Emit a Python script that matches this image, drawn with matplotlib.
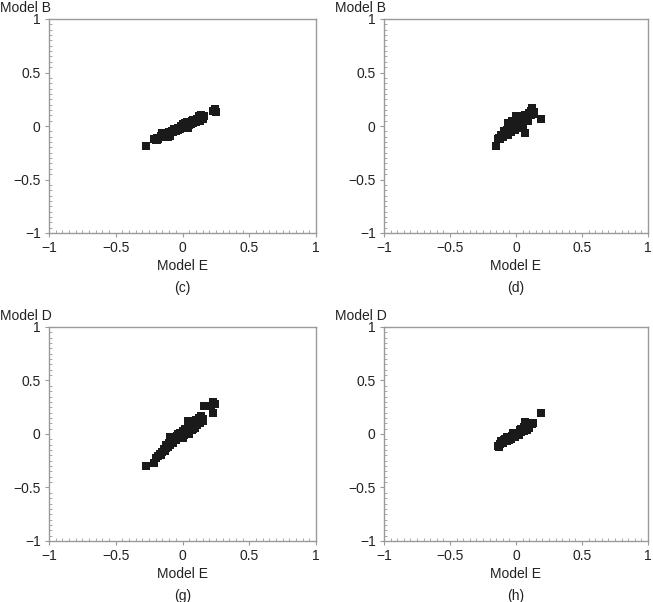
import matplotlib.pyplot as plt
from matplotlib.ticker import MultipleLocator

plt.rcParams['font.family'] = ['Liberation Sans', 'DejaVu Sans']

# panel (c): Model E vs Model B
xc = [-0.27, -0.21, -0.20, -0.19, -0.18, -0.16, -0.15, -0.14, -0.13, -0.12, -0.11, -0.10,
      -0.09, -0.08, -0.07, -0.06, -0.05, -0.04, -0.03, -0.02, -0.01, 0.00, 0.01, 0.02,
      0.03, 0.04, 0.05, 0.06, 0.07, 0.08, 0.09, 0.10, 0.11, 0.12, 0.13, 0.14, 0.15,
      0.16, 0.23, 0.24, 0.25,
      -0.19, -0.15, -0.12, -0.09, -0.06, -0.03, 0.00, 0.03, 0.05, 0.08, 0.12, 0.15]
yc = [-0.19, -0.12, -0.13, -0.11, -0.12, -0.09, -0.10, -0.08, -0.09, -0.07, -0.10, -0.06,
      -0.07, -0.05, -0.06, -0.04, -0.05, -0.03, -0.02, -0.03, 0.00, -0.01, 0.01, 0.03,
      0.00, -0.02, 0.04, 0.02, 0.05, 0.03, 0.06, 0.04, 0.07, 0.08, 0.05, 0.10, 0.08,
      0.09, 0.14, 0.16, 0.13,
      -0.13, -0.07, -0.10, -0.09, -0.03, -0.04, 0.02, 0.04, 0.01, 0.06, 0.09, 0.07]

# panel (d): Model E vs Model B
xd = [-0.15, -0.14, -0.13, -0.12, -0.10, -0.08, -0.07, -0.06, -0.06, -0.05, -0.04, -0.03,
      -0.03, -0.02, -0.01, 0.00, 0.00, 0.00, 0.01, 0.02, 0.02, 0.03, 0.04, 0.05, 0.05,
      0.06, 0.07, 0.07, 0.08, 0.09, 0.10, 0.11, 0.12, 0.13, 0.14, 0.19,
      -0.11, -0.09, -0.05, -0.02, 0.01, 0.03, 0.06, 0.09, 0.11, -0.04, 0.04]
yd = [-0.19, -0.12, -0.11, -0.12, -0.10, -0.07, -0.04, -0.08, 0.03, -0.02, -0.06, -0.03,
      0.05, 0.00, -0.04, 0.02, -0.02, 0.09, 0.05, 0.01, -0.02, 0.07, 0.03, 0.09, 0.00,
      0.05, -0.07, 0.10, 0.06, 0.08, 0.12, 0.10, 0.165, 0.11, 0.13, 0.07,
      -0.08, -0.05, -0.05, 0.03, 0.08, 0.00, 0.09, 0.05, 0.14, 0.00, 0.06]

# panel (g): Model E vs Model D
xg = [-0.27, -0.21, -0.20, -0.18, -0.17, -0.15, -0.14, -0.13, -0.12, -0.11, -0.10, -0.09,
      -0.09, -0.08, -0.07, -0.06, -0.05, -0.04, -0.03, -0.02, -0.01, 0.00, 0.01, 0.02,
      0.03, 0.04, 0.05, 0.06, 0.07, 0.08, 0.09, 0.10, 0.11, 0.12, 0.13, 0.14, 0.15,
      0.16, 0.21, 0.23, 0.23, 0.24,
      -0.16, -0.12, -0.07, -0.03, 0.00, 0.04, 0.08, 0.12, 0.15, 0.06]
yg = [-0.30, -0.27, -0.22, -0.21, -0.19, -0.17, -0.14, -0.16, -0.10, -0.12, -0.08, -0.03,
      -0.10, -0.06, -0.08, -0.04, -0.06, -0.02, -0.04, 0.01, -0.02, 0.03, -0.01, 0.05,
      0.02, 0.12, 0.00, 0.07, 0.04, 0.10, 0.06, 0.13, 0.08, 0.15, 0.10, 0.17, 0.12,
      0.26, 0.26, 0.30, 0.20, 0.28,
      -0.20, -0.13, -0.05, 0.00, -0.04, 0.06, 0.05, 0.12, 0.14, 0.10]

# panel (h): Model E vs Model D
xh = [-0.14, -0.13, -0.11, -0.10, -0.09, -0.08, -0.07, -0.06, -0.05, -0.04, -0.03, -0.02,
      -0.01, 0.00, 0.01, 0.02, 0.03, 0.04, 0.05, 0.06, 0.07, 0.07, 0.08, 0.09, 0.10,
      0.11, 0.13, 0.19,
      -0.12, -0.08, -0.05, -0.02, 0.01, 0.04, 0.06, 0.09, 0.12, -0.07, 0.03]
yh = [-0.11, -0.12, -0.07, -0.08, -0.06, -0.05, -0.07, -0.04, -0.03, -0.05, -0.02, -0.01,
      -0.03, 0.00, 0.01, -0.01, 0.03, 0.02, 0.05, 0.03, 0.115, 0.06, 0.04, 0.08, 0.06,
      0.09, 0.105, 0.20,
      -0.09, -0.07, -0.06, 0.01, -0.01, 0.05, 0.07, 0.06, 0.09, -0.03, 0.04]

panels = [
    (xc, yc, 'Model B', '(c)'),
    (xd, yd, 'Model B', '(d)'),
    (xg, yg, 'Model D', '(g)'),
    (xh, yh, 'Model D', '(h)'),
]

ticks = [-1, -0.5, 0, 0.5, 1]
tick_labels = ['\u22121', '\u22120.5', '0', '0.5', '1']

W, H = 653, 602
fig = plt.figure(figsize=(W / 100, H / 100), dpi=100)

# axes boxes in pixels: left, top, right, bottom
boxes = [(49, 19, 316, 233), (384, 19, 648, 233),
         (49, 327, 316, 541), (384, 327, 648, 541)]
gray = '#9a9a9a'

for (x, y, ylab, tag), (l, t, r, b) in zip(panels, boxes):
    ax = fig.add_axes([l / W, 1 - b / H, (r - l) / W, (b - t) / H])
    ax.plot(x, y, 's', color='#1a1a1a', markersize=5.5, markeredgewidth=0)
    ax.set_xlim(-1, 1)
    ax.set_ylim(-1, 1)
    ax.set_xticks(ticks)
    ax.set_xticklabels(tick_labels)
    ax.set_yticks(ticks)
    ax.set_yticklabels(tick_labels)
    ax.xaxis.set_minor_locator(MultipleLocator(0.05))
    ax.yaxis.set_minor_locator(MultipleLocator(0.05))
    ax.tick_params(which='major', direction='out', length=3, width=0.8,
                   color=gray, labelsize=10, pad=3, labelcolor='#222222')
    ax.tick_params(which='minor', direction='in', length=2, width=0.6, color=gray)
    ax.tick_params(top=False, right=False, which='both')
    for s in ax.spines.values():
        s.set_color(gray)
        s.set_linewidth(1.0)
    cx = (l + r) / 2
    fig.text(cx / W, 1 - (b + 33) / H, 'Model E', ha='center', va='center',
             fontsize=10, color='#222222')
    fig.text(cx / W, 1 - (b + 55) / H, tag, ha='center', va='center',
             fontsize=10, color='#222222')
    fig.text((l - 49) / W, 1 - (t - 11) / H, ylab, ha='left', va='center',
             fontsize=10, color='#222222')

fig.savefig('out.png', dpi=100)
